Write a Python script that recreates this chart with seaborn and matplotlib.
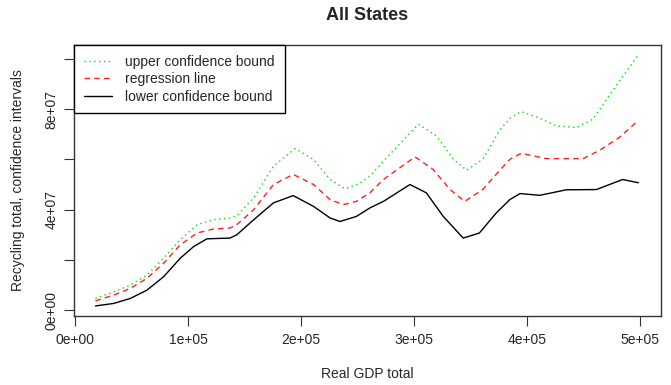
import matplotlib
matplotlib.use("Agg")
import matplotlib.pyplot as plt
import seaborn as sns
import pandas as pd

# ---- data ----
upper_x = [17700, 33900, 48700, 63400, 78100, 92900, 107700, 122400, 137000, 143000,
           158000, 175500, 194700, 211000, 225700, 239000, 252000, 261000, 273000, 304000,
           320000, 335000, 346600, 361000, 376000, 385000, 395000, 411500, 426000, 444000,
           458700, 476000, 498500]
upper_y = [4.7e6, 7.3e6, 10.0e6, 14.0e6, 20.7e6, 28.0e6, 34.0e6, 36.0e6, 36.7e6, 37.6e6,
           44.7e6, 57.3e6, 64.3e6, 60.0e6, 52.0e6, 48.3e6, 50.5e6, 53.3e6, 59.3e6, 74.0e6,
           69.3e6, 60.0e6, 55.7e6, 60.0e6, 71.6e6, 76.3e6, 79.0e6, 76.4e6, 73.3e6, 72.7e6,
           76.0e6, 87.3e6, 101.3e6]

reg_x = [17700, 33900, 48700, 63400, 78100, 92900, 107700, 122400, 137000, 143000,
         158000, 175500, 193000, 211000, 225700, 237500, 249000, 261000, 273000, 301000,
         317000, 332000, 345000, 361000, 376000, 385000, 395000, 417500, 450000, 464600,
         482000, 498500]
reg_y = [3.7e6, 6.0e6, 8.7e6, 12.7e6, 18.7e6, 26.0e6, 30.7e6, 32.3e6, 32.7e6, 34.0e6,
         40.0e6, 50.0e6, 54.0e6, 50.0e6, 44.0e6, 42.0e6, 43.3e6, 46.7e6, 52.0e6, 61.0e6,
         56.0e6, 48.0e6, 43.3e6, 48.0e6, 55.6e6, 60.0e6, 62.4e6, 60.3e6, 60.3e6, 63.6e6,
         68.7e6, 75.3e6]

lower_x = [17700, 33900, 48700, 63400, 78100, 92900, 104700, 116500, 137000, 143000,
           158000, 175500, 193000, 211000, 225700, 234500, 249000, 261000, 273000, 296500,
           311000, 326000, 343700, 358000, 373000, 385000, 394000, 411500, 435000, 461700,
           485000, 499000]
lower_y = [1.7e6, 2.7e6, 4.7e6, 8.0e6, 13.3e6, 20.7e6, 25.3e6, 28.4e6, 28.7e6, 30.0e6,
           36.0e6, 42.7e6, 45.6e6, 41.3e6, 36.7e6, 35.3e6, 37.3e6, 40.7e6, 43.3e6, 50.0e6,
           46.7e6, 37.3e6, 28.7e6, 30.7e6, 38.7e6, 44.0e6, 46.4e6, 45.7e6, 47.9e6, 48.0e6,
           52.0e6, 50.7e6]

series_labels = ["upper confidence bound", "regression line", "lower confidence bound"]
x_ticks = [0, 100000, 200000, 300000, 400000, 500000]
x_tick_labels = ["0e+00", "1e+05", "2e+05", "3e+05", "4e+05", "5e+05"]
y_ticks = [0, 2e7, 4e7, 6e7, 8e7, 1e8]
y_tick_labels = ["0e+00", "", "4e+07", "", "8e+07", ""]

sns.set_style("white")
plt.rcParams["font.family"] = ["Liberation Sans", "DejaVu Sans"]

fig = plt.figure(figsize=(6.71, 3.85), dpi=100)
ax = fig.add_axes([74 / 671, 1 - 316 / 385, (661 - 74) / 671, (316 - 45) / 385])

df_u = pd.DataFrame({"x": upper_x, "y": upper_y})
df_r = pd.DataFrame({"x": reg_x, "y": reg_y})
df_l = pd.DataFrame({"x": lower_x, "y": lower_y})

sns.lineplot(data=df_u, x="x", y="y", ax=ax, color="#00E000", lw=1.0,
             linestyle=(0, (1, 2.5)), label=series_labels[0], estimator=None)
sns.lineplot(data=df_r, x="x", y="y", ax=ax, color="#FF2020", lw=1.0,
             linestyle=(0, (4, 3)), label=series_labels[1], estimator=None)
sns.lineplot(data=df_l, x="x", y="y", ax=ax, color="black", lw=1.0,
             linestyle="-", label=series_labels[2], estimator=None)

ax.set_xlim(-1300, 519000)
ax.set_ylim(-2.3e6, 105.5e6)
ax.set_xticks(x_ticks)
ax.set_xticklabels(x_tick_labels)
ax.set_yticks(y_ticks)
ax.set_yticklabels(y_tick_labels, rotation=90, va="center")
ax.tick_params(axis="both", which="both", direction="out", length=7, width=0.8,
               color="#333333", labelsize=10, pad=4, bottom=True, left=True)
ax.tick_params(axis="x", pad=5)
for sp in ax.spines.values():
    sp.set_visible(True)
    sp.set_color("#333333")
    sp.set_linewidth(1.0)

ax.set_xlabel("Real GDP total", fontsize=10, labelpad=15)
ax.set_ylabel("Recycling total, confidence intervals", fontsize=10, labelpad=14)
ax.set_title("All States", fontsize=13, fontweight="bold", pad=18)

leg = ax.legend(loc="upper left", bbox_to_anchor=(0, 1), borderaxespad=0,
                fancybox=False, frameon=True, edgecolor="black", framealpha=1,
                fontsize=10, handlelength=2.0, handletextpad=1.0, borderpad=0.7,
                labelspacing=0.25)
leg.get_frame().set_linewidth(1.0)

fig.savefig("out.png", dpi=100)
